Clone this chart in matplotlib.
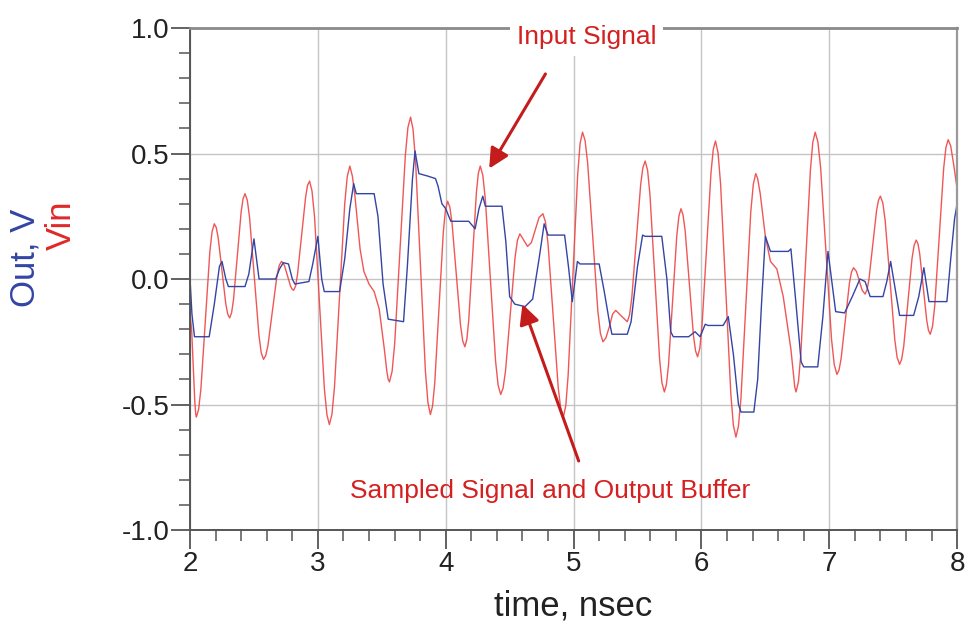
import matplotlib
matplotlib.use("Agg")
import matplotlib.pyplot as plt
from matplotlib.ticker import MultipleLocator

# ---- data ----
# Vin (red): time in ns, volts
t_vin = [2.00, 2.0125, 2.025, 2.0375, 2.045, 2.05,
         2.0675, 2.085, 2.12, 2.155, 2.1725, 2.19,
         2.205, 2.22, 2.25, 2.28, 2.295, 2.31,
         2.325, 2.34, 2.37, 2.40, 2.415, 2.43,
         2.448, 2.466, 2.5025, 2.539, 2.557, 2.575,
         2.5925, 2.61, 2.645, 2.68, 2.6975, 2.715,
         2.727, 2.739, 2.7625, 2.786, 2.798, 2.81,
         2.826, 2.841, 2.8725, 2.904, 2.919, 2.935,
         2.954, 2.974, 3.0125, 3.051, 3.071, 3.09,
         3.11, 3.13, 3.17, 3.21, 3.23, 3.25,
         3.27, 3.29, 3.33, 3.36, 3.40, 3.44, 3.48, 3.52, 3.54, 3.55, 3.56,
         3.5806, 3.601, 3.6425, 3.684, 3.704, 3.725,
         3.744, 3.764, 3.8025, 3.841, 3.861, 3.88,
         3.897, 3.914, 3.9475, 3.981, 3.998, 4.015,
         4.032, 4.049, 4.0825, 4.116, 4.133, 4.15,
         4.165, 4.18, 4.21, 4.24, 4.255, 4.27,
         4.29, 4.31, 4.35, 4.39, 4.41, 4.43,
         4.449, 4.4675, 4.505, 4.5425, 4.561, 4.58,
         4.61, 4.64, 4.67, 4.70, 4.73, 4.76,
         4.78, 4.80, 4.84, 4.88, 4.90, 4.92,
         4.939, 4.9575, 4.995, 5.0325, 5.051, 5.07,
         5.09, 5.11, 5.15, 5.19, 5.21, 5.23,
         5.2525, 5.28, 5.305, 5.33, 5.375, 5.42,
         5.4375, 5.455, 5.49, 5.525, 5.5425, 5.56,
         5.579, 5.5975, 5.635, 5.6725, 5.691, 5.71,
         5.726, 5.7425, 5.775, 5.8075, 5.824, 5.84,
         5.856, 5.8725, 5.905, 5.9375, 5.954, 5.97,
         5.9875, 6.005, 6.04, 6.075, 6.0925, 6.11,
         6.13, 6.15, 6.19, 6.23, 6.25, 6.27,
         6.289, 6.309, 6.3475, 6.386, 6.406, 6.425,
         6.44, 6.46, 6.50, 6.54, 6.59, 6.64, 6.70, 6.72, 6.73, 6.74,
         6.759, 6.7775, 6.815, 6.8525, 6.871, 6.89,
         6.911, 6.9325, 6.975, 7.0175, 7.039, 7.06,
         7.076, 7.0925, 7.125, 7.1575, 7.174, 7.19,
         7.2125, 7.235, 7.2575, 7.28,
         7.295, 7.31, 7.34, 7.37, 7.385, 7.40,
         7.419, 7.4375, 7.475, 7.5125, 7.531, 7.55,
         7.566, 7.5825, 7.615, 7.6475, 7.664, 7.68,
         7.694, 7.7075, 7.735, 7.7625, 7.776, 7.79,
         7.8075, 7.825, 7.86, 7.895, 7.9125, 7.93,
         7.95, 7.975, 8.00]
v_vin = [-0.14, -0.20, -0.345, -0.49, -0.54, -0.55,
         -0.519, -0.438, -0.165, 0.108, 0.189, 0.22,
         0.205, 0.165, 0.033, -0.100, -0.140, -0.155,
         -0.135, -0.083, 0.093, 0.268, 0.320, 0.34,
         0.314, 0.244, 0.01, -0.224, -0.294, -0.32,
         -0.304, -0.263, -0.125, 0.013, 0.054, 0.07,
         0.065, 0.053, 0.0125, -0.028, -0.040, -0.045,
         -0.028, 0.019, 0.1725, 0.326, 0.373, 0.39,
         0.351, 0.248, -0.095, -0.438, -0.541, -0.58,
         -0.539, -0.430, -0.065, 0.300, 0.409, 0.45,
         0.41, 0.33, 0.12, 0.03, -0.02, -0.05, -0.12, -0.28, -0.37, -0.40, -0.41,
         -0.368, -0.256, 0.1175, 0.491, 0.603, 0.645,
         0.598, 0.472, 0.0525, -0.367, -0.493, -0.54,
         -0.506, -0.416, -0.115, 0.186, 0.276, 0.31,
         0.287, 0.225, 0.02, -0.185, -0.247, -0.27,
         -0.241, -0.165, 0.09, 0.345, 0.421, 0.45,
         0.414, 0.317, -0.005, -0.327, -0.424, -0.46,
         -0.434, -0.367, -0.14, 0.087, 0.154, 0.18,
         0.155, 0.13, 0.145, 0.195, 0.245, 0.26,
         0.228, 0.142, -0.145, -0.432, -0.518, -0.55,
         -0.505, -0.384, 0.0175, 0.419, 0.540, 0.585,
         0.552, 0.463, 0.1675, -0.128, -0.217, -0.25,
         -0.235, -0.19, -0.14, -0.125, -0.148, -0.17,
         -0.144, -0.077, 0.15, 0.377, 0.444, 0.47,
         0.433, 0.336, 0.01, -0.316, -0.413, -0.45,
         -0.421, -0.343, -0.085, 0.173, 0.251, 0.28,
         0.256, 0.194, -0.015, -0.224, -0.286, -0.31,
         -0.276, -0.184, 0.12, 0.424, 0.516, 0.55,
         0.503, 0.378, -0.04, -0.458, -0.583, -0.63,
         -0.588, -0.477, -0.105, 0.267, 0.378, 0.42,
         0.40, 0.34, 0.17, 0.07, 0.04, -0.07, -0.28, -0.38, -0.43, -0.45,
         -0.409, -0.299, 0.0675, 0.434, 0.544, 0.585,
         0.546, 0.444, 0.1025, -0.239, -0.341, -0.38,
         -0.363, -0.318, -0.1675, -0.017, 0.028, 0.045,
         0.03, -0.007, -0.045, -0.06,
         -0.044, -0.003, 0.135, 0.273, 0.314, 0.33,
         0.303, 0.232, -0.005, -0.242, -0.313, -0.34,
         -0.32, -0.268, -0.0925, 0.083, 0.135, 0.155,
         0.14, 0.10, -0.0325, -0.165, -0.205, -0.22,
         -0.189, -0.107, 0.1675, 0.442, 0.524, 0.555,
         0.53, 0.45, 0.36]

# Out (blue): sampled signal / output buffer
t_out = [2.00, 2.015, 2.035, 2.15, 2.19, 2.23, 2.25, 2.28, 2.30, 2.43, 2.46, 2.50, 2.52,
         2.54, 2.67, 2.70, 2.73, 2.77, 2.80, 2.82, 2.93, 2.96, 3.00, 3.03, 3.05, 3.17,
         3.21, 3.25, 3.28, 3.30, 3.44, 3.47, 3.51, 3.55, 3.67, 3.70, 3.74, 3.76, 3.79,
         3.86, 3.92, 3.94, 3.97, 4.00, 4.04, 4.18, 4.23, 4.26, 4.29, 4.31, 4.44, 4.47,
         4.50, 4.54, 4.62, 4.68, 4.73, 4.77, 4.80, 4.93, 4.96, 4.99, 5.03, 5.05, 5.20,
         5.24, 5.28, 5.30, 5.42, 5.45, 5.50, 5.54, 5.56, 5.69, 5.73, 5.76, 5.78, 5.90,
         5.95, 5.99, 6.03, 6.05, 6.17, 6.21, 6.25, 6.29, 6.31, 6.41, 6.44, 6.47, 6.50,
         6.54, 6.68, 6.70, 6.74, 6.78, 6.80, 6.91, 6.95, 6.99, 7.05, 7.12, 7.18, 7.24,
         7.28, 7.32, 7.42, 7.45, 7.48, 7.55, 7.66, 7.70, 7.74, 7.78, 7.92, 7.95, 7.98, 8.00]
v_out = [0.00, -0.14, -0.23, -0.23, -0.10, 0.05, 0.07, 0.00, -0.03, -0.03, 0.02, 0.16, 0.08,
         0.00, 0.00, 0.04, 0.065, 0.06, 0.00, -0.02, -0.01, 0.06, 0.17, 0.00, -0.05, -0.05,
         0.08, 0.28, 0.38, 0.34, 0.34, 0.25, -0.02, -0.16, -0.17, 0.05, 0.40, 0.51, 0.42,
         0.41, 0.40, 0.37, 0.30, 0.28, 0.23, 0.23, 0.20, 0.28, 0.33, 0.29, 0.29, 0.15,
         -0.07, -0.10, -0.11, -0.08, 0.08, 0.22, 0.175, 0.175, 0.05, -0.09, 0.07, 0.06, 0.06,
         -0.05, -0.17, -0.22, -0.22, -0.17, 0.05, 0.175, 0.17, 0.17, 0.00, -0.21, -0.23, -0.23,
         -0.21, -0.23, -0.18, -0.185, -0.185, -0.15, -0.30, -0.50, -0.53, -0.53, -0.40, -0.10, 0.17,
         0.11, 0.11, 0.12, -0.10, -0.33, -0.35, -0.35, -0.15, 0.11, -0.13, -0.135, -0.07, 0.00,
         -0.01, -0.07, -0.07, -0.01, 0.07, -0.145, -0.145, -0.07, 0.045, -0.09, -0.09, 0.08, 0.24, 0.30]

x_ticks = [2, 3, 4, 5, 6, 7, 8]
y_ticks = [-1.0, -0.5, 0.0, 0.5, 1.0]

plt.rcParams["font.family"] = ["Liberation Sans", "DejaVu Sans"]

RED = "#ee4444"
BLUE = "#3444a4"
ARROW = "#c41c1c"
TXT_RED = "#d42020"

fig = plt.figure(figsize=(9.71, 6.44), dpi=100)
ax = fig.add_axes([0.1957, 0.177, 0.79, 0.7795])

ax.plot(t_vin, v_vin, color=RED, lw=1.0, alpha=0.9)
ax.plot(t_out, v_out, color=BLUE, lw=1.0)

ax.set_xlim(2, 8)
ax.set_ylim(-1.0, 1.0)
ax.set_xticks(x_ticks)
ax.set_yticks(y_ticks)
ax.set_xticklabels([str(x) for x in x_ticks])
ax.set_yticklabels([f"{y:.1f}" for y in y_ticks])
ax.xaxis.set_minor_locator(MultipleLocator(0.2))
ax.yaxis.set_minor_locator(MultipleLocator(0.1))
ax.grid(True, which="major", color="#c4c4c4", lw=1.0)
ax.set_axisbelow(True)

ax.tick_params(which="major", length=14, width=1.3, color="#555555", pad=1,
               labelsize=20, labelcolor="#222222")
ax.tick_params(which="minor", length=8, width=1.1, color="#555555")
for side in ["left", "bottom"]:
    ax.spines[side].set_color("#555555")
    ax.spines[side].set_linewidth(1.4)
ax.spines["top"].set_color("#8a8a8a")
ax.spines["top"].set_linewidth(2.0)
ax.spines["right"].set_color("#9a9a9a")
ax.spines["right"].set_linewidth(1.6)

ax.set_xlabel("time, nsec", fontsize=25, color="#222222", labelpad=9)

# two-colour y label, stacked like two lines
fig.text(0.026, 0.600, "Out, V", rotation=90, color=BLUE, fontsize=25,
         ha="center", va="center")
fig.text(0.063, 0.650, "Vin", rotation=90, color="#e02828", fontsize=25,
         ha="center", va="center")

# annotations: text and arrows placed separately
ax.text(5.10, 0.964, "Input Signal", ha="center", va="center", fontsize=19,
        color=TXT_RED, zorder=5,
        bbox=dict(boxstyle="square,pad=0.25", fc="white", ec="none"))
ax.annotate("", xy=(4.34, 0.44), xytext=(4.78, 0.817),
            arrowprops=dict(arrowstyle="-|>", color=ARROW, lw=2.2,
                            mutation_scale=30, shrinkA=0, shrinkB=0),
            zorder=5)
ax.text(4.82, -0.845, "Sampled Signal and Output Buffer", ha="center", va="center",
        fontsize=19, color=TXT_RED, zorder=5)
ax.annotate("", xy=(4.60, -0.10), xytext=(5.04, -0.725),
            arrowprops=dict(arrowstyle="-|>", color=ARROW, lw=2.2,
                            mutation_scale=30, shrinkA=0, shrinkB=0),
            zorder=5)

fig.savefig("out.png", dpi=100)
